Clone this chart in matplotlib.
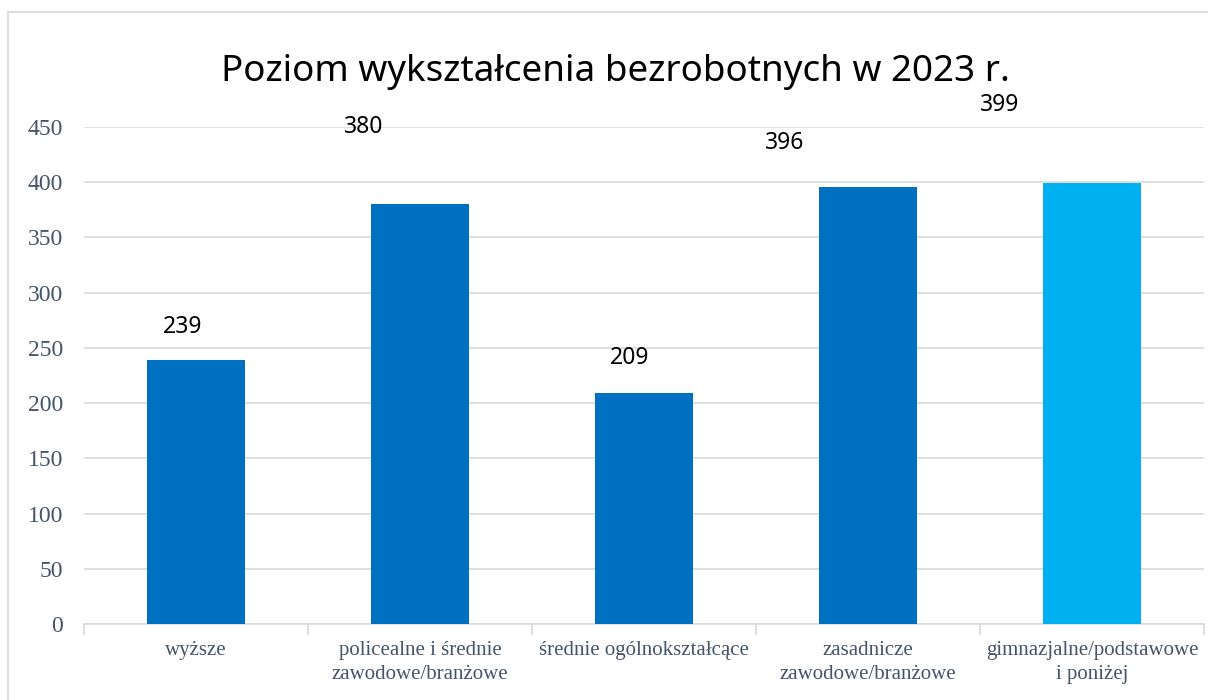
import matplotlib.pyplot as plt
from matplotlib.patches import Rectangle
import numpy as np

categories = ['wyższe', 'policealne i średnie\nzawodowe/branżowe', 'średnie ogólnokształcące',
              'zasadnicze\nzawodowe/branżowe', 'gimnazjalne/podstawowe\ni poniżej']
values = [239, 380, 209, 396, 399]
colors = ['#0070C0', '#0070C0', '#0070C0', '#0070C0', '#00B0F0']
# where each value label sits relative to the top of its bar (pixels)
label_offsets = [(-13, 33), (-56, 77), (-14, 35), (-83, 44), (-92, 78)]

fig = plt.figure(figsize=(12.08, 7.0), dpi=100)
ax = fig.add_axes([84/1208, 1 - 624/700, 1120/1208, 497/700])

x = np.arange(len(values))
ax.bar(x, values, width=0.44, color=colors, zorder=3)

for xi, v, (dx, dy) in zip(x, values, label_offsets):
    ax.annotate(str(v), (xi, v), xytext=(dx, dy), textcoords='offset pixels',
                ha='center', va='center', fontsize=16.5, family='Noto Sans', color='black')

ax.set_xlim(-0.5, 4.5)
ax.set_ylim(0, 450)
ax.set_yticks(np.arange(0, 451, 50))
ax.grid(axis='y', color='#D9D9D9', linewidth=1.2, zorder=0)
for s in ['top', 'right', 'left']:
    ax.spines[s].set_visible(False)
ax.spines['bottom'].set_color('#D9D9D9')
ax.spines['bottom'].set_linewidth(1.2)

ax.tick_params(axis='y', length=0, pad=15, labelsize=17, labelcolor='#44546A')
for t in ax.get_yticklabels():
    t.set_family('Liberation Serif')

ax.set_xticks(x)
ax.set_xticklabels(categories, fontsize=15, family='Liberation Serif', color='#44546A', linespacing=1.4)
ax.tick_params(axis='x', length=0, pad=12)
ax.set_xticks(np.arange(-0.5, 5, 1), minor=True)
ax.tick_params(axis='x', which='minor', length=8, color='#D9D9D9', width=1.2)

fig.text(615/1208, 1 - 72/700, 'Poziom wykształcenia bezrobotnych w 2023 r.',
         ha='center', va='center', fontsize=26.5, family='Noto Sans')

fig.patches.append(Rectangle((8/1208, -0.01), 1.1, 1 - 12/700 + 0.01, transform=fig.transFigure,
                             fill=False, edgecolor='#D9DEE4', linewidth=1.5))

plt.savefig('out.png', dpi=100)
